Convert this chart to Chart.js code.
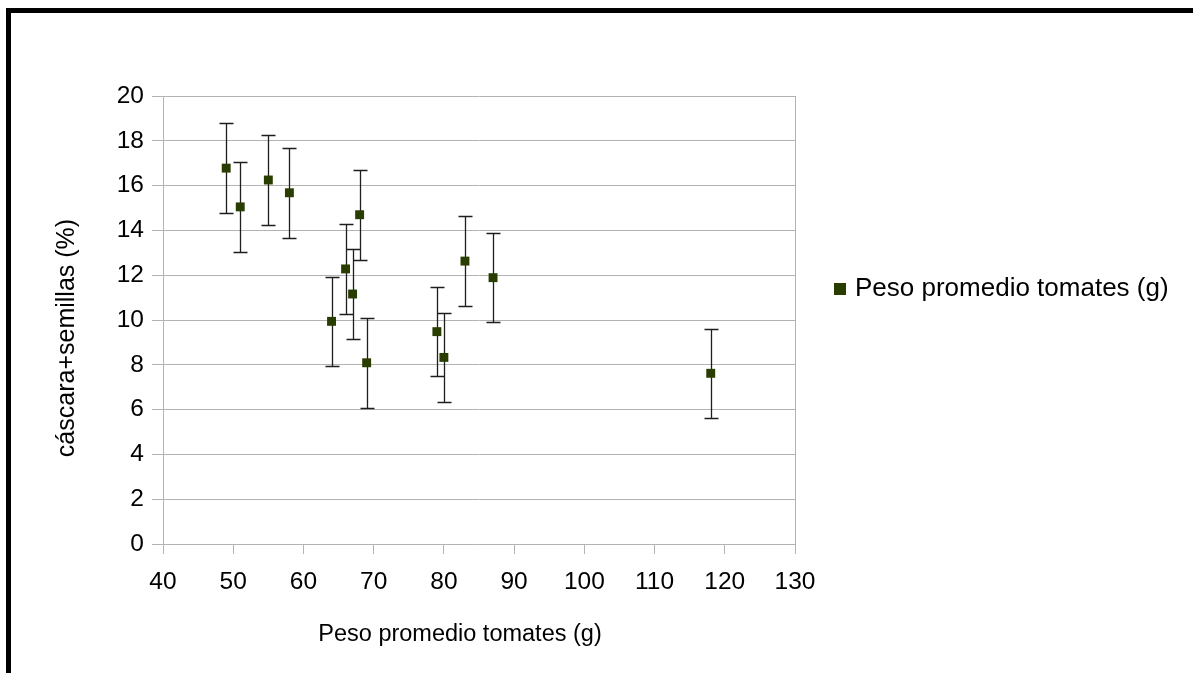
<!DOCTYPE html>
<html><head><meta charset="utf-8">
<script src="https://cdn.jsdelivr.net/npm/chart.js@4.4.1/dist/chart.umd.min.js"></script>
<style>
html,body{margin:0;padding:0;background:#fff;}
#wrap{position:relative;width:1193px;height:673px;overflow:hidden;}
#frame{position:absolute;left:6px;top:8px;width:1200px;height:700px;border-top:5px solid #000;border-left:5px solid #000;box-sizing:border-box;pointer-events:none;}
canvas{position:absolute;left:0;top:0;}
</style></head><body>
<div id="wrap"><canvas id="c" width="1193" height="673"></canvas><div id="frame"></div></div>
<script>
const seriesName = 'Peso promedio tomates (g)';
const xTitle = 'Peso promedio tomates (g)';
const yTitle = 'cáscara+semillas (%)';
const pesos = [49, 51, 55, 58, 64, 66, 67, 68, 69, 79, 80, 83, 87, 118];
const porcentajes = [16.78, 15.05, 16.25, 15.68, 9.94, 12.28, 11.16, 14.70, 8.09, 9.48, 8.33, 12.63, 11.89, 7.62];
const errores = [2, 2, 2, 2, 2, 2, 2, 2, 2, 2, 2, 2, 2, 2];
const xTicks = [40, 50, 60, 70, 80, 90, 100, 110, 120, 130];
const yTicks = [0, 2, 4, 6, 8, 10, 12, 14, 16, 18, 20];

const markerColor = '#2a3d00';
const gridColor = '#b3b3b3';
const FONT = '"Liberation Sans", Arial, sans-serif';

const errorBars = {
  id: 'errorBars',
  beforeDatasetsDraw(chart) {
    const {ctx, scales: {x, y}} = chart;
    ctx.save();
    ctx.strokeStyle = '#1e1e1e';
    ctx.lineWidth = 1.3;
    pesos.forEach((p, i) => {
      const px = Math.round(x.getPixelForValue(p)) + 0.5;
      const top = Math.round(y.getPixelForValue(porcentajes[i] + errores[i])) + 0.5;
      const bot = Math.round(y.getPixelForValue(porcentajes[i] - errores[i])) + 0.5;
      ctx.beginPath();
      ctx.moveTo(px, top); ctx.lineTo(px, bot);
      ctx.moveTo(px - 7, top); ctx.lineTo(px + 7, top);
      ctx.moveTo(px - 7, bot); ctx.lineTo(px + 7, bot);
      ctx.stroke();
    });
    ctx.restore();
  }
};

const textDecor = {
  id: 'textDecor',
  afterDraw(chart) {
    const {ctx, chartArea} = chart;
    ctx.save();
    ctx.fillStyle = '#000';
    ctx.textBaseline = 'middle';
    // x axis title
    ctx.font = '23.5px ' + FONT;
    ctx.textAlign = 'center';
    const cx = (chartArea.left + chartArea.right) / 2 - 19;
    ctx.fillText(xTitle, cx, 635);
    // y axis title
    ctx.save();
    ctx.translate(67, (chartArea.top + chartArea.bottom) / 2 + 18);
    ctx.rotate(-Math.PI / 2);
    ctx.font = '25px ' + FONT;
    ctx.fillText(yTitle, 0, 0);
    ctx.restore();
    // legend
    ctx.fillStyle = markerColor;
    ctx.fillRect(834, 283, 12, 12);
    ctx.fillStyle = '#000';
    ctx.textAlign = 'left';
    ctx.font = '26px ' + FONT;
    ctx.fillText(seriesName, 855, 289);
    ctx.restore();
  }
};

new Chart(document.getElementById('c'), {
  type: 'scatter',
  data: {
    datasets: [{
      label: seriesName,
      data: pesos.map((p, i) => ({x: p, y: porcentajes[i]})),
      pointStyle: 'rect',
      pointRadius: 6.3,
      pointHoverRadius: 6.3,
      backgroundColor: markerColor,
      borderColor: markerColor,
      borderWidth: 0
    }]
  },
  options: {
    responsive: false,
    devicePixelRatio: 1,
    animation: false,
    layout: {padding: {left: 0, right: 398, top: 96, bottom: 0}},
    plugins: {legend: {display: false}, tooltip: {enabled: false}},
    scales: {
      x: {
        type: 'linear', min: 40, max: 130,
        afterBuildTicks(s) { s.ticks = xTicks.map(v => ({value: v})); },
        afterFit(s) { s.height = 129; },
        ticks: {color: '#000', font: {family: FONT, size: 24.5}, padding: 14, maxRotation: 0},
        grid: {
          color: c => (c.tick && (c.tick.value === 40 || c.tick.value === 130)) ? gridColor : 'rgba(0,0,0,0)',
          tickColor: gridColor, tickLength: 10, lineWidth: 1
        },
        border: {display: true, color: gridColor}
      },
      y: {
        type: 'linear', min: 0, max: 20,
        afterBuildTicks(s) { s.ticks = yTicks.map(v => ({value: v})); },
        afterFit(s) { s.width = 163; },
        ticks: {color: '#000', font: {family: FONT, size: 24.5}, padding: 8},
        grid: {color: gridColor, tickColor: gridColor, tickLength: 11, lineWidth: 1},
        border: {display: true, color: gridColor}
      }
    }
  },
  plugins: [errorBars, textDecor]
});
</script>
</body></html>
